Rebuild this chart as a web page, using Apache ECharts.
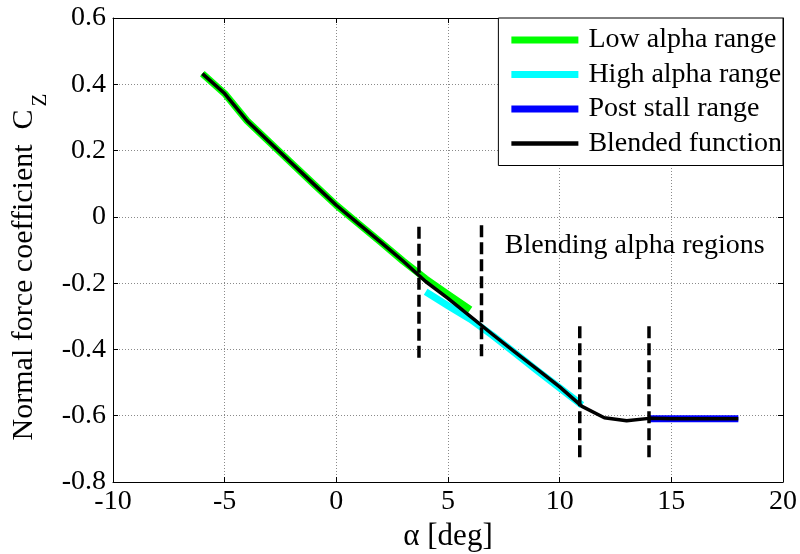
<!DOCTYPE html>
<html>
<head>
<meta charset="utf-8">
<script src="https://cdn.jsdelivr.net/npm/echarts@6/dist/echarts.min.js"></script>
<style>
  html, body { margin: 0; padding: 0; background: #fff; }
  #chart { width: 800px; height: 554px; }
</style>
</head>
<body>
<div id="chart"></div>
<script>
// Normal force coefficient C_Z versus angle of attack, per model range
const lowAlpha   = [-6, -5, -4, -3, -2, -1, 0, 1, 2, 3, 4, 5, 6];
const lowCz      = [0.432, 0.372, 0.29, 0.226, 0.162, 0.098, 0.035, -0.021, -0.077, -0.134, -0.187, -0.234, -0.28];

const highAlpha  = [4, 5, 6, 7, 8, 9, 10, 11];
const highCz     = [-0.226, -0.268, -0.309, -0.358, -0.411, -0.464, -0.516, -0.568];

const stallAlpha = [14, 15, 16, 17, 18];
const stallCz    = [-0.609, -0.609, -0.609, -0.609, -0.609];

const blendAlpha = [-6, -5, -4, -3, -2, -1, 0, 1, 2, 3, 4, 5, 6, 7, 8, 9, 10, 11, 12, 13, 14, 15, 16, 17, 18];
const blendCz    = [0.432, 0.372, 0.29, 0.226, 0.162, 0.098, 0.035, -0.021, -0.077, -0.134, -0.195, -0.246, -0.30,
                    -0.355, -0.408, -0.46, -0.513, -0.572, -0.606, -0.615, -0.608, -0.609, -0.609, -0.609, -0.609];

// Boundaries of the blending regions (dashed markers)
const regionAlpha  = [3.7, 6.5, 10.9, 14.0];
const regionTop    = [-0.03, -0.025, -0.33, -0.33];
const regionBottom = [-0.44, -0.435, -0.735, -0.735];

const noteText  = 'Blending alpha regions';
const notePoint = [13.36, -0.088];

const xTicks = { min: -10, max: 20, interval: 5 };
const yTicks = { min: -0.8, max: 0.6, interval: 0.2 };

const FONT = 'Liberation Serif';
const zip = (xs, ys) => xs.map((x, i) => [x, ys[i]]);

const rangeSeries = (name, xs, ys, color, width) => ({
  name, type: 'line', data: zip(xs, ys), symbol: 'none', silent: true,
  lineStyle: { color, width, cap: 'butt', join: 'round' },
  itemStyle: { color }, animation: false
});

const regionSeries = regionAlpha.map((a, i) => ({
  name: 'region' + i, type: 'line', symbol: 'none', silent: true, animation: false,
  data: [[a, regionTop[i]], [a, regionBottom[i]]],
  lineStyle: { color: '#000', width: 3.5, type: [12, 5], cap: 'butt' }
}));

const chart = echarts.init(document.getElementById('chart'), null, { renderer: 'canvas' });

const frameLine = { show: true, onZero: false, lineStyle: { color: '#000', width: 1 } };
const frameTick = { show: true, inside: true, length: 5, lineStyle: { color: '#000' } };
const gridLine  = { show: true, lineStyle: { color: '#8a8a8a', type: [1, 2], width: 1 } };

const hiddenAxis = {
  axisLine: frameLine, axisTick: frameTick,
  axisLabel: { show: false }, splitLine: { show: false }
};

chart.setOption({
  backgroundColor: '#fff',
  animation: false,
  textStyle: { fontFamily: FONT },
  grid: { left: 113, right: 17, top: 18, bottom: 72, containLabel: false, outerBoundsMode: 'none' },
  xAxis: [
    {
      type: 'value', position: 'bottom', ...xTicks,
      name: 'α [deg]', nameLocation: 'middle', nameGap: 37,
      nameTextStyle: { fontFamily: FONT, fontSize: 31, color: '#000' },
      axisLine: frameLine, axisTick: frameTick, splitLine: gridLine,
      axisLabel: { fontFamily: FONT, fontSize: 28, color: '#000', margin: 6 }
    },
    { type: 'value', position: 'top', ...xTicks, ...hiddenAxis }
  ],
  yAxis: [
    {
      type: 'value', position: 'left', ...yTicks,
      name: 'Normal force coefficient  C{sub|Z}', nameLocation: 'middle', nameGap: 55, nameRotate: 90,
      nameTextStyle: {
        fontFamily: FONT, fontSize: 30, color: '#000', padding: [0, 34, 0, 0],
        rich: { sub: { fontFamily: FONT, fontSize: 21, color: '#000', padding: [32, 0, 0, 3] } }
      },
      axisLine: frameLine, axisTick: frameTick, splitLine: gridLine,
      axisLabel: { fontFamily: FONT, fontSize: 28, color: '#000', margin: 7,
        formatter: v => String(Math.round(v * 10) / 10) }
    },
    { type: 'value', position: 'right', ...yTicks, ...hiddenAxis }
  ],
  legend: {
    data: [
      { name: 'Low alpha range', icon: 'rect' },
      { name: 'High alpha range', icon: 'rect' },
      { name: 'Post stall range', icon: 'rect' },
      { name: 'Blended function', icon: 'path://M0,0L67,0L67,4.5L0,4.5Z' }
    ],
    orient: 'vertical', right: 17, top: 18,
    padding: [8, 1, 8, 13], itemGap: 6.5, itemWidth: 67, itemHeight: 7,
    symbolKeepAspect: true,
    backgroundColor: '#fff', borderColor: '#000', borderWidth: 1, borderRadius: 0,
    textStyle: { fontFamily: FONT, fontSize: 28, color: '#000', lineHeight: 28, padding: [0, 0, 0, 5] },
    selectedMode: false
  },
  series: [
    rangeSeries('Low alpha range', lowAlpha, lowCz, '#00ff00', 7),
    rangeSeries('High alpha range', highAlpha, highCz, '#00ffff', 7),
    rangeSeries('Post stall range', stallAlpha, stallCz, '#0000ff', 7),
    ...regionSeries,
    rangeSeries('Blended function', blendAlpha, blendCz, '#000000', 3.5),
    {
      name: 'note', type: 'scatter', silent: true, symbolSize: 0, data: [notePoint],
      itemStyle: { opacity: 1 },
      label: { show: true, position: 'inside', formatter: noteText, opacity: 1,
        fontFamily: FONT, fontSize: 28, color: '#000', textBorderWidth: 0 }
    }
  ]
});
</script>
</body>
</html>
